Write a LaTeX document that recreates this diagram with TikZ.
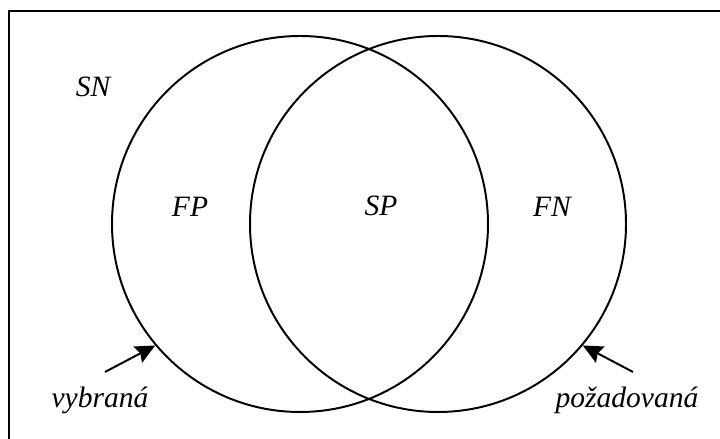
\documentclass[tikz,border=0pt]{standalone}
\usepackage{fontspec}
\setmainfont{Liberation Serif}
\usepackage{tikz}
\usetikzlibrary{arrows.meta, positioning}

\begin{document}
\begin{tikzpicture}[>=Stealth, line width=1.4pt,
        lbl/.style={font=\fontsize{21}{25}\selectfont\itshape},
        set/.style={draw, circle, minimum size=9.4cm, inner sep=0pt}]
        \useasboundingbox (0,0) rectangle (18,10.975);
        \clip (0,0) rectangle (18,10.975);
        % Frame
        \draw (0.225,-1) -- (0.225,10.7) -- (19,10.7);
        % Two sets
        \node[set] (sel) at (7.5,5.375) {};
        \node[set] (req) at (10.95,5.375) {};
        % Regions
        \node[lbl] (sn) at (2.325,8.8) {SN};
        \node[lbl] (fp) at (4.75,5.8) {FP};
        \node[lbl] (sp) at (9.525,5.825) {SP};
        \node[lbl] (fn) at (13.8,5.8) {FN};
        % Set names
        \node[lbl, anchor=base] (vyb) at (2.5,0.775) {vybraná};
        \node[lbl, anchor=base] (poz) at (15.675,0.775) {požadovaná};
        \coordinate (vybt) at (2.625,1.675);
        \coordinate (pozt) at (15.825,1.675);
        \draw[-{Stealth[length=14pt, width=13pt, inset=2pt]}] (vybt) -- (sel.220);
        \draw[-{Stealth[length=14pt, width=13pt, inset=2pt]}] (pozt) -- (req.320);
\end{tikzpicture}
\end{document}
